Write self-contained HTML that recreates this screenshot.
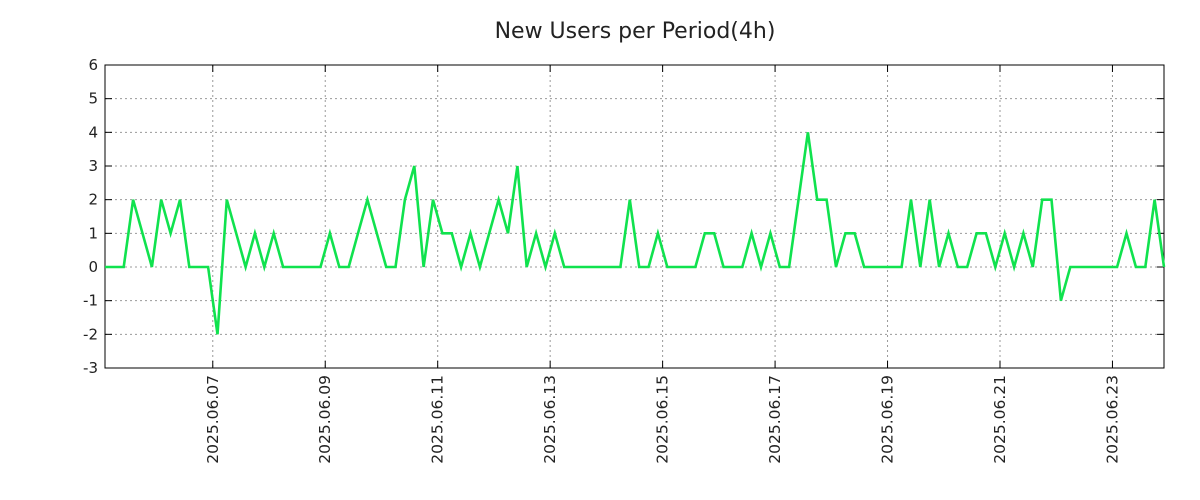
<!DOCTYPE html>
<html><head><meta charset="utf-8"><style>
html,body{margin:0;padding:0;background:#fff;}
svg{display:block;font-family:"DejaVu Sans","Liberation Sans",sans-serif;}
</style></head><body>
<svg id="chart" width="1200" height="500">
<text x="635" y="38" font-size="22" text-anchor="middle" fill="#222">New Users per Period(4h)</text>
<g id="grid"></g>
<g id="axes"></g>
<polyline id="line" fill="none" stroke="#10e24e" stroke-width="2.6" stroke-linejoin="miter"/>
</svg>
<script>
const values = [0,0,0,2,1,0,2,1,2,0,0,0,-2,2,1,0,1,0,1,0,0,0,0,0,
1,0,0,1,2,1,0,0,2,3,0,2,1,1,0,1,0,1,2,1,3,0,1,0,1,0,
0,0,0,0,0,0,2,0,0,
1,0,0,0,0,1,1,0,0,0,1,0,1,0,0,2,4,2,2,0,1,1,0,0,0,0,0,2,0,
2,0,1,0,0,1,1,0,1,0,1,0,2,2,-1,0,0,0,0,0,0,1,0,0,2,0];
const yTicks = [-3,-2,-1,0,1,2,3,4,5,6];
const xTickLabels = ["2025.06.07","2025.06.09","2025.06.11","2025.06.13","2025.06.15","2025.06.17","2025.06.19","2025.06.21","2025.06.23"];
const xTickIndex = [11.5,23.5,35.5,47.5,59.5,71.5,83.5,95.5,107.5];

const L=105,R=1164,T=65,B=368;
const NS="http://www.w3.org/2000/svg";
const xs=i=>L+(R-L)*i/(values.length-1);
const ys=v=>B-(B-T)*(v-(-3))/9;
const grid=document.getElementById('grid'), axes=document.getElementById('axes');
function mk(tag,attrs,parent){const e=document.createElementNS(NS,tag);for(const k in attrs)e.setAttribute(k,attrs[k]);parent.appendChild(e);return e;}

yTicks.forEach(v=>{
  const y=ys(v);
  const g=mk('line',{x1:L,x2:R,y1:y,y2:y,stroke:'#999','stroke-dasharray':'2,3','stroke-width':1},grid);
  
  
  mk('line',{x1:L,x2:L+7,y1:y,y2:y,stroke:'#000'},axes);
  mk('line',{x1:R-7,x2:R,y1:y,y2:y,stroke:'#000'},axes);
  const t=mk('text',{x:98,y:y+5,'font-size':15,'text-anchor':'end',fill:'#222'},axes);
  t.textContent=v;
  
  
});
xTickIndex.forEach((idx,k)=>{
  const x=xs(idx);
  const g=mk('line',{x1:x,x2:x,y1:T,y2:B,stroke:'#999','stroke-dasharray':'2,3','stroke-width':1},grid);
  
  
  mk('line',{x1:x,x2:x,y1:B-7,y2:B,stroke:'#000'},axes);
  mk('line',{x1:x,x2:x,y1:T,y2:T+7,stroke:'#000'},axes);
  const t=mk('text',{x:0,y:0,'font-size':15.5,'text-anchor':'end',fill:'#222',transform:`translate(${x+5},375) rotate(-90)`},axes);
  t.textContent=xTickLabels[k];
  
  
});
const box=mk('rect',{x:L,y:T,width:R-L,height:B-T,fill:'none',stroke:'#000','stroke-width':1},axes);


document.getElementById('line').setAttribute('points',values.map((v,i)=>xs(i).toFixed(1)+','+ys(v).toFixed(1)).join(' '));
</script>
</body></html>
